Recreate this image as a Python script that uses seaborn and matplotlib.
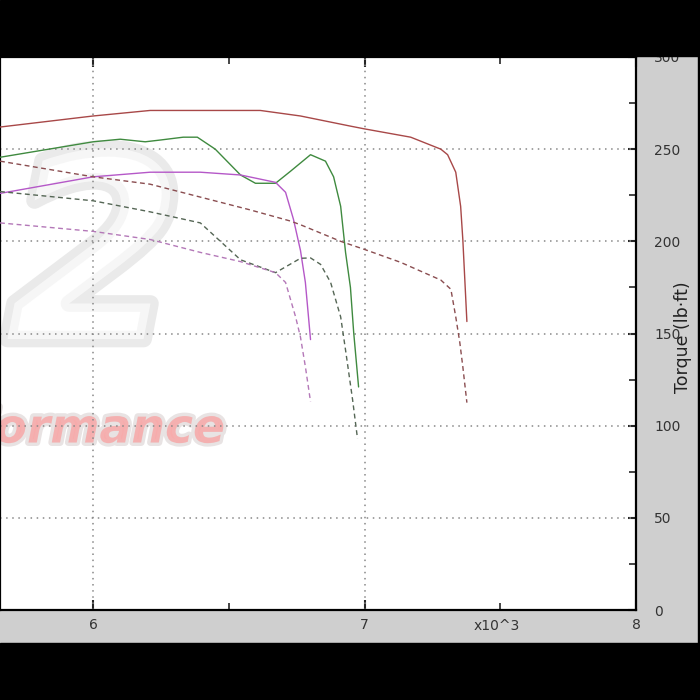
import numpy as np
import pandas as pd
import matplotlib
matplotlib.use("Agg")
import matplotlib.pyplot as plt
import matplotlib.patheffects as pe
from matplotlib.patches import Rectangle
from matplotlib.ticker import MultipleLocator, FixedLocator
import seaborn as sns

# ---------------------------------------------------------------------------
# curves (rpm, lb.ft)
# ---------------------------------------------------------------------------
red_rpm = [5657, 6000, 6210, 6395, 6616, 6764, 6948, 7000, 7170, 7281, 7306, 7336, 7354, 7362, 7377]
red_tq = [262, 268, 271, 271, 271, 268, 262.5, 261, 256.5, 250, 247, 237.5, 219, 201, 156.5]

green_rpm = [5657, 6000, 6100, 6192, 6250, 6332, 6384, 6450, 6543, 6598, 6672, 6727, 6801,
             6856, 6886, 6912, 6930, 6948, 6960, 6978]
green_tq = [245.6, 254, 255.4, 254, 255, 256.5, 256.5, 250, 236, 231.5, 231.5, 238, 247,
            243.5, 235, 219, 194, 175, 150.5, 121]

mag_rpm = [5657, 6000, 6210, 6395, 6543, 6672, 6709, 6738, 6764, 6782, 6801]
mag_tq = [226, 235, 237.5, 237.5, 236, 232, 226.6, 212, 195, 177.7, 146.7]

red_d_rpm = [5657, 6000, 6210, 6395, 6580, 6727, 6764, 6912, 7000, 7133, 7281, 7318, 7336, 7351, 7362, 7377]
red_d_tq = [243.5, 235, 231, 224, 217, 211, 209, 200, 195.6, 188.6, 179, 174, 159, 145, 132, 112.5]

green_d_rpm = [5657, 6000, 6210, 6395, 6469, 6543, 6672, 6764, 6801, 6838, 6875, 6912, 6930, 6956, 6974]
green_d_tq = [227, 222, 216, 210, 200, 190, 183, 190.8, 191, 187.5, 177.7, 159, 141, 114, 93]

mag_d_rpm = [5657, 6000, 6210, 6395, 6543, 6672, 6709, 6746, 6764, 6782, 6801]
mag_d_tq = [210, 205.4, 201, 194, 189, 183, 177.7, 159, 148, 132, 113]

sns.set_style("white")
plt.rcParams['font.family'] = ['DejaVu Sans']

fig = plt.figure(figsize=(7, 7), dpi=100, facecolor='#cfcfcf')
ax = fig.add_axes([0.0, 1 - 610 / 700, 636 / 700, (610 - 57) / 700])
ax.set_facecolor('white')

# faded watermark (logo "2" and "Performance")
ax.text(95 / 636, 1 - (268 - 57) / 553, "2", transform=ax.transAxes, fontsize=185,
        fontweight='bold', fontstyle='italic', color='white', ha='center', va='center',
        alpha=0.6, path_effects=[pe.withStroke(linewidth=12, foreground='#dcdcdc')], zorder=0)
ax.text(225 / 636, 1 - (430 - 57) / 553, "Performance", transform=ax.transAxes, fontsize=34,
        fontweight='bold', fontstyle='italic', color='#f7aaaa', ha='right', va='center',
        alpha=0.85, path_effects=[pe.withStroke(linewidth=5, foreground='#e4dede')], zorder=0)

curves = [
    (red_rpm, red_tq, '#a84848', '-'),
    (green_rpm, green_tq, '#3f8a3f', '-'),
    (mag_rpm, mag_tq, '#b558c8', '-'),
    (red_d_rpm, red_d_tq, '#8a4d50', '--'),
    (green_d_rpm, green_d_tq, '#556655', '--'),
    (mag_d_rpm, mag_d_tq, '#b478b8', '--'),
]
for xs, ys, col, ls in curves:
    d = pd.DataFrame({'rpm': xs, 'tq': ys})
    sns.lineplot(data=d, x='rpm', y='tq', ax=ax, color=col, linestyle=ls,
                 linewidth=1.0, sort=False, estimator=None, zorder=3)
for line in ax.lines:
    if line.get_linestyle() == '--':
        line.set_dashes((3.5, 2.5))

ax.set_xlim(5657, 8000)
ax.set_ylim(0, 300)

# grid
for xv in [6000, 7000]:
    ax.axvline(xv, color='#888888', linestyle=(0, (1, 3)), linewidth=1.1, zorder=1)
for yv in [50, 100, 150, 200, 250]:
    ax.axhline(yv, color='#888888', linestyle=(0, (1, 3)), linewidth=1.1, zorder=1)

ax.xaxis.set_major_locator(FixedLocator([6000, 7000, 8000]))
ax.xaxis.set_minor_locator(FixedLocator([6500, 7500]))
ax.set_xticklabels(["6", "7", "8"])
ax.yaxis.set_major_locator(MultipleLocator(50))
ax.yaxis.set_minor_locator(MultipleLocator(25))
ax.yaxis.tick_right()
ax.tick_params(axis='x', which='both', direction='in', top=True, bottom=True,
               labelsize=10, labelcolor='#333333', pad=6)
ax.tick_params(axis='x', which='major', length=7, width=1.5)
ax.tick_params(axis='x', which='minor', length=5, width=1.2)
ax.tick_params(axis='y', which='both', direction='in', right=True, left=False,
               labelsize=10, labelcolor='#333333', pad=13)
ax.tick_params(axis='y', which='major', length=6, width=1.5)
ax.tick_params(axis='y', which='minor', length=5, width=1.2)
ax.set_xlabel("")
ax.set_ylabel("")
for sp in ax.spines.values():
    sp.set_color('black')
    sp.set_linewidth(1.6)

fig.text(497 / 700, 1 - 626 / 700, "x10^3", fontsize=10, color='#333333',
         ha='center', va='center')
fig.text(683 / 700, 1 - 337 / 700, "Torque (lb·ft)", fontsize=12.5, color='#222222',
         rotation=90, ha='center', va='center')

# black bands of the screenshot
fig.patches.append(Rectangle((0, 1 - 56 / 700), 1, 56 / 700, transform=fig.transFigure,
                             color='black', zorder=10))
fig.patches.append(Rectangle((0, 0), 1, 57 / 700, transform=fig.transFigure,
                             color='black', zorder=10))
fig.patches.append(Rectangle((698 / 700, 0), 2 / 700, 1, transform=fig.transFigure,
                             color='black', zorder=10))

fig.savefig("out.png", dpi=100, facecolor=fig.get_facecolor())
